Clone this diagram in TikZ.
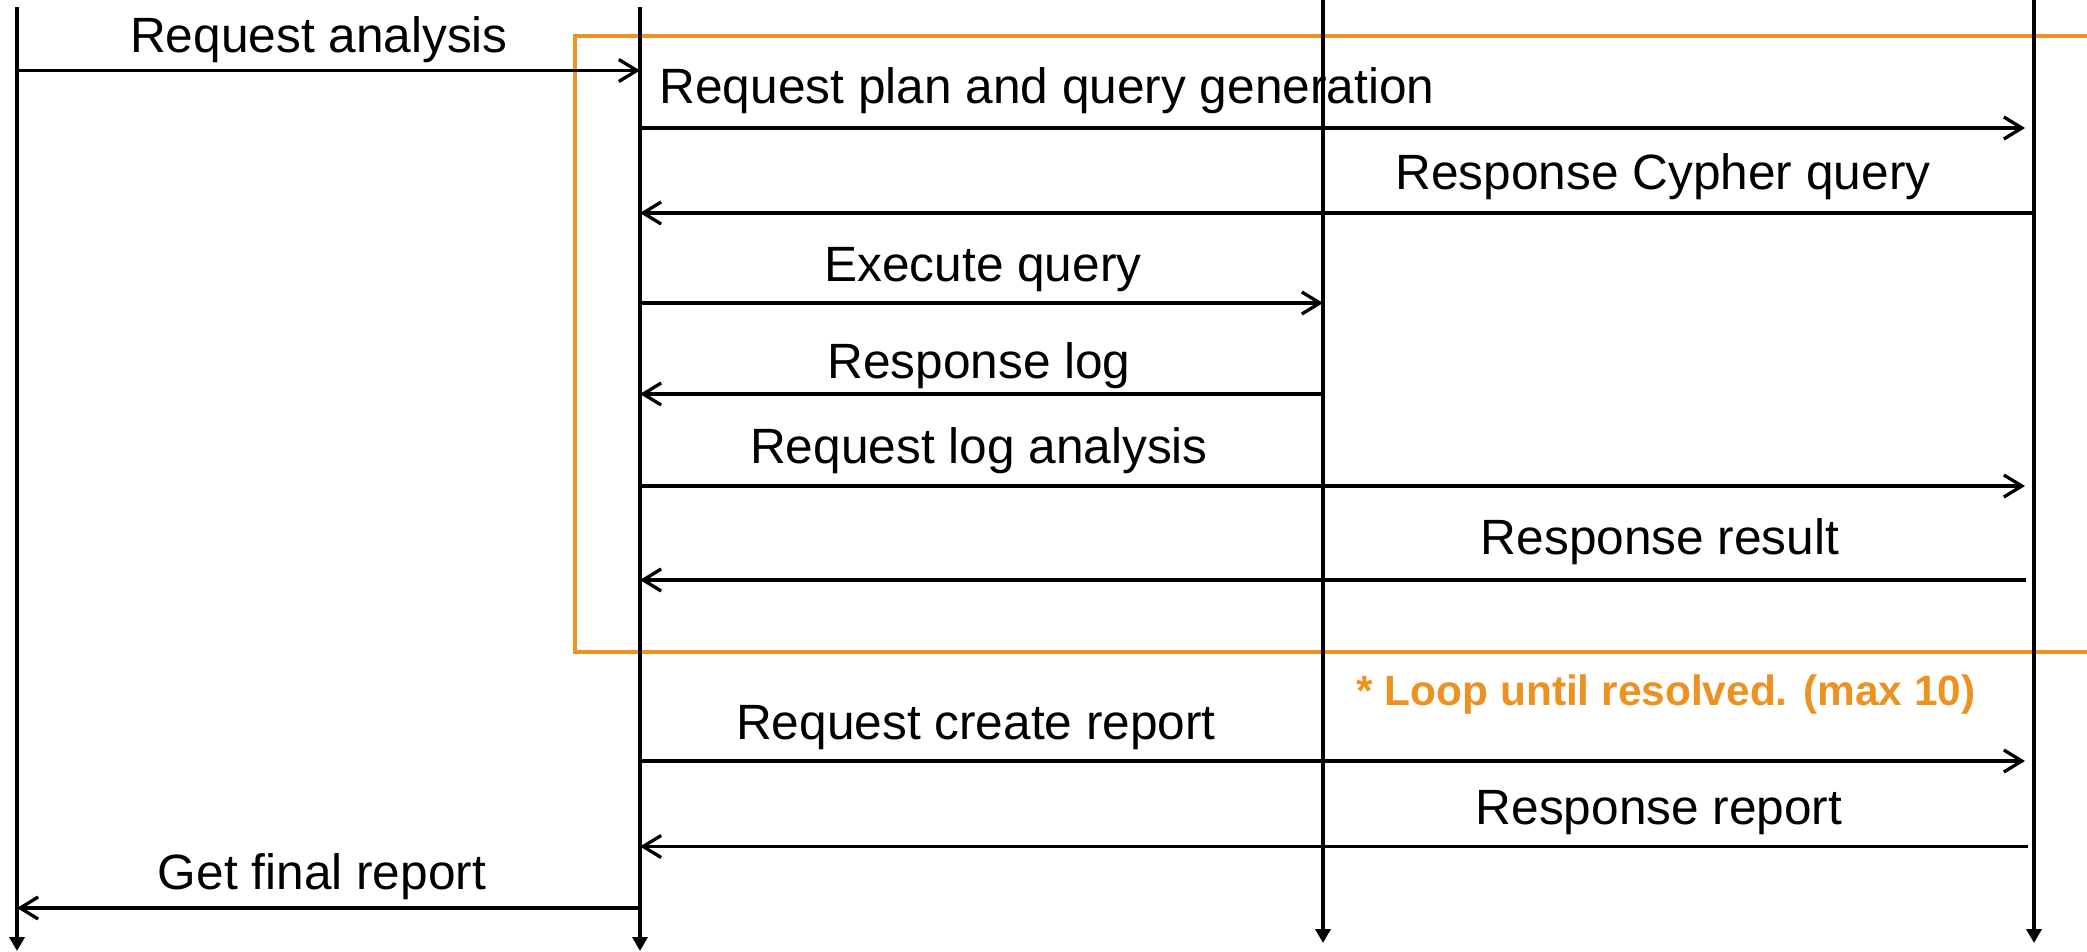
\documentclass[tikz,border=0pt]{standalone}
\usepackage{fontspec}
\setmainfont{Liberation Sans}
\usepackage{tikz}
\usetikzlibrary{arrows.meta}
\definecolor{loopcol}{RGB}{237,145,33}

\begin{document}
\begin{tikzpicture}[x=0.5pt,y=-0.5pt,line width=1.65pt,
                    >={Straight Barb[length=9pt,width=11pt]}]
  \tikzstyle{life}=[line width=2pt,-{Triangle[length=7pt,width=7.5pt]}]
  \tikzstyle{msg}=[->]
  \tikzstyle{toD}=[->,shorten >=4.5pt]
  \tikzstyle{lbl}=[anchor=base,inner sep=0pt,font=\fontsize{24.8}{30}\selectfont]
  \tikzstyle{note}=[anchor=base,inner sep=0pt,text=loopcol,
                    font=\fontsize{21.2}{26}\selectfont\bfseries]
  \tikzstyle{loopbox}=[draw=loopcol,line width=1.65pt]

  \useasboundingbox (0,0) rectangle (2087,952);

  % loop frame, its right side runs off the page
  \coordinate (loopTL) at (575,36);
  \coordinate (loopBR) at (2100,652);
  \draw[loopbox] (loopTL) rectangle (loopBR);

  % lifelines
  \coordinate (A) at (17,7);    \coordinate (Aend) at (17,951);
  \coordinate (B) at (640,7);   \coordinate (Bend) at (640,951);
  \coordinate (C) at (1323,0);  \coordinate (Cend) at (1323,943);
  \coordinate (D) at (2034,0);  \coordinate (Dend) at (2034,943);
  \draw[life] (A) -- (Aend);
  \draw[life] (B) -- (Bend);
  \draw[life] (C) -- (Cend);
  \draw[life] (D) -- (Dend);

  % message rows
  \coordinate (m1) at (0,70.5);
  \coordinate (m2) at (0,128);
  \coordinate (m3) at (0,213);
  \coordinate (m4) at (0,303);
  \coordinate (m5) at (0,394);
  \coordinate (m6) at (0,486);
  \coordinate (m7) at (0,580);
  \coordinate (m8) at (0,761);
  \coordinate (m9) at (0,846.5);
  \coordinate (m10) at (0,908);

  \draw[msg] (A |- m1) -- (B |- m1);
  \draw[toD] (B |- m2) -- (D |- m2);
  \draw[msg] (D |- m3) -- (B |- m3);
  \draw[msg] (B |- m4) -- (C |- m4);
  \draw[msg] (C |- m5) -- (B |- m5);
  \draw[toD] (B |- m6) -- (D |- m6);
  \draw[msg,shorten <=4pt] (D |- m7) -- (B |- m7);
  \draw[toD] (B |- m8) -- (D |- m8);
  \draw[msg,shorten <=3pt] (D |- m9) -- (B |- m9);
  \draw[msg] (B |- m10) -- (A |- m10);

  % labels
  \node[lbl] (l1) at (319,53) {Request analysis};
  \node[lbl] (l2) at (1047,104) {Request plan and query generation};
  \node[lbl] (l3) at (1663,190) {Response Cypher query};
  \node[lbl] (l4) at (983,281) {Execute query};
  \node[lbl] (l5) at (979,378) {Response log};
  \node[lbl] (l6) at (979,463) {Request log analysis};
  \node[lbl] (l7) at (1660,554) {Response result};
  \node[note] (loopnote) at (1666,705) {* Loop until resolved. (max 10)};
  \node[lbl] (l8) at (976,739) {Request create report};
  \node[lbl] (l9) at (1659,824) {Response report};
  \node[lbl] (l10) at (322,889) {Get final report};
\end{tikzpicture}
\end{document}
